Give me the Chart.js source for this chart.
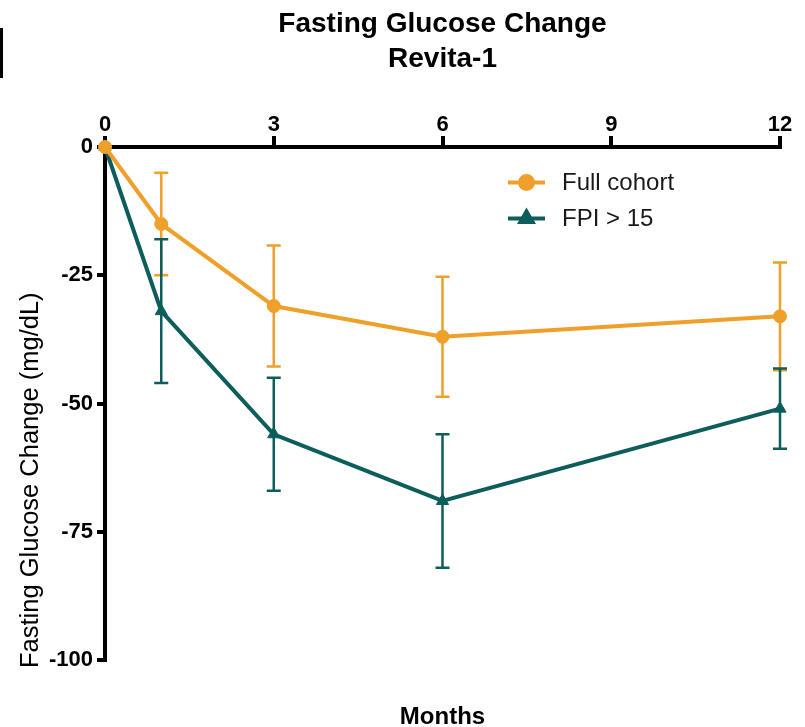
<!DOCTYPE html>
<html>
<head>
<meta charset="utf-8">
<script src="https://cdn.jsdelivr.net/npm/chart.js@4/dist/chart.umd.min.js"></script>
<style>
  html, body { margin: 0; padding: 0; background: #fff; }
  #wrap { position: relative; width: 805px; height: 727px; }
  #edge { position: absolute; left: 0; top: 28px; width: 3px; height: 50px; background: #000; }
</style>
</head>
<body>
<div id="wrap">
  <canvas id="c" width="805" height="727"></canvas>
  <div id="edge"></div>
</div>
<script>
// Visit months and mean change in fasting glucose (mg/dL), with error half-widths
const months = [0, 1, 3, 6, 12];
const fullCohort = [0, -15, -31, -37, -33];
const fullCohortErr = [0, 10, 11.8, 11.7, 10.5];
const fpiHigh = [0, -32, -56, -69, -51];
const fpiHighErr = [0, 14, 11, 13, 7.8];
const seriesLabels = ['Full cohort', 'FPI > 15'];
const xTicks = [0, 3, 6, 9, 12];
const yTicks = [0, -25, -50, -75, -100];
const yTitle = 'Fasting Glucose Change (mg/dL)';

const ORANGE = '#EEA02A';
const TEAL = '#0D5E5B';
const FAMILY = '"Liberation Sans", Arial, Helvetica, sans-serif';
Chart.defaults.font.family = FAMILY;
Chart.defaults.color = '#000';

function toPoints(xs, ys) {
  return xs.map((x, i) => ({ x: x, y: ys[i] }));
}

// Vertical error bars with caps, drawn beneath the lines and markers
const errorBars = {
  id: 'errorBars',
  beforeDatasetsDraw(chart) {
    const ctx = chart.ctx;
    const xs = chart.scales.x, ys = chart.scales.y;
    chart.data.datasets.forEach((ds, di) => {
      if (!chart.isDatasetVisible(di)) return;
      ctx.save();
      ctx.strokeStyle = ds.borderColor;
      ctx.lineWidth = 2.5;
      ds.data.forEach((p, j) => {
        const e = ds.errors[j];
        if (!e) return;
        const px = xs.getPixelForValue(p.x);
        const top = ys.getPixelForValue(p.y + e);
        const bot = ys.getPixelForValue(p.y - e);
        ctx.beginPath();
        ctx.moveTo(px, top); ctx.lineTo(px, bot);
        ctx.moveTo(px - 7, top); ctx.lineTo(px + 7, top);
        ctx.moveTo(px - 7, bot); ctx.lineTo(px + 7, bot);
        ctx.stroke();
      });
      ctx.restore();
    });
  }
};

// Legend drawn inside the plot area: line sample, marker, label
const insideLegend = {
  id: 'insideLegend',
  afterDatasetsDraw(chart) {
    const ctx = chart.ctx;
    const area = chart.chartArea;
    const x0 = area.left + 403;
    let y = area.top + 35.5;
    chart.data.datasets.forEach((ds) => {
      ctx.save();
      ctx.strokeStyle = ds.borderColor;
      ctx.lineWidth = 4;
      ctx.beginPath();
      ctx.moveTo(x0, y); ctx.lineTo(x0 + 37, y);
      ctx.stroke();
      ctx.fillStyle = ds.backgroundColor;
      ctx.strokeStyle = ds.borderColor;
      Chart.helpers.drawPoint(ctx, {
        pointStyle: ds.pointStyle, radius: ds.pointRadius, rotation: 0, borderWidth: 1
      }, x0 + 18.5, y);
      ctx.fillStyle = '#1a1a1a';
      ctx.font = '24px ' + FAMILY;
      ctx.textAlign = 'left';
      ctx.textBaseline = 'middle';
      ctx.fillText(ds.label, x0 + 54, y + 1);
      ctx.restore();
      y += 36;
    });
  }
};

// Y-axis title, running upward from just below the bottom of the axis
const yAxisTitle = {
  id: 'yAxisTitle',
  afterDraw(chart) {
    const ctx = chart.ctx;
    const area = chart.chartArea;
    ctx.save();
    ctx.translate(31, area.bottom + 8);
    ctx.rotate(-Math.PI / 2);
    ctx.fillStyle = '#000';
    ctx.font = '25.5px ' + FAMILY;
    ctx.textAlign = 'left';
    ctx.textBaseline = 'middle';
    ctx.fillText(yTitle, 0, 0);
    ctx.restore();
  }
};

new Chart(document.getElementById('c'), {
  type: 'line',
  data: {
    datasets: [
      {
        label: seriesLabels[0],
        data: toPoints(months, fullCohort),
        errors: fullCohortErr,
        borderColor: ORANGE,
        backgroundColor: ORANGE,
        borderWidth: 4,
        pointStyle: 'circle',
        pointRadius: 6.5,
        pointBorderWidth: 1,
        tension: 0,
        clip: false
      },
      {
        label: seriesLabels[1],
        data: toPoints(months, fpiHigh),
        errors: fpiHighErr,
        borderColor: TEAL,
        backgroundColor: TEAL,
        borderWidth: 4,
        pointStyle: 'triangle',
        pointRadius: 7,
        pointBorderWidth: 1,
        tension: 0,
        clip: false
      }
    ]
  },
  options: {
    responsive: false,
    animation: false,
    events: [],
    layout: { padding: { left: 0, right: 25, top: 0, bottom: 0 } },
    plugins: {
      legend: { display: false },
      tooltip: { enabled: false },
      title: {
        display: true,
        text: ['Fasting Glucose Change', 'Revita-1'],
        fullSize: false,
        color: '#000',
        font: { size: 28, weight: 'bold', lineHeight: 35 / 28 },
        padding: { top: 7, bottom: 0 }
      },
      subtitle: {
        display: true,
        position: 'bottom',
        text: 'Months',
        fullSize: false,
        color: '#000',
        font: { size: 24, weight: 'bold', lineHeight: 1 },
        padding: { top: 45, bottom: -2 }
      }
    },
    scales: {
      x: {
        type: 'linear',
        position: 'top',
        min: 0,
        max: 12,
        afterBuildTicks: (s) => { s.ticks = xTicks.map(v => ({ value: v })); },
        afterFit: (s) => { s.height = 70; },
        ticks: { color: '#000', font: { size: 22, weight: 'bold' }, padding: -2 },
        grid: { drawOnChartArea: false, tickLength: 11, lineWidth: 4, color: '#000' },
        border: { width: 4, color: '#000' }
      },
      y: {
        type: 'linear',
        min: -100,
        max: 0,
        afterBuildTicks: (s) => { s.ticks = yTicks.map(v => ({ value: v })); },
        afterFit: (s) => { s.width = 105; },
        ticks: { color: '#000', font: { size: 22, weight: 'bold' }, padding: 4 },
        grid: { drawOnChartArea: false, tickLength: 8, lineWidth: 4, color: '#000' },
        border: { width: 4, color: '#000' }
      }
    }
  },
  plugins: [errorBars, insideLegend, yAxisTitle]
});
</script>
</body>
</html>
